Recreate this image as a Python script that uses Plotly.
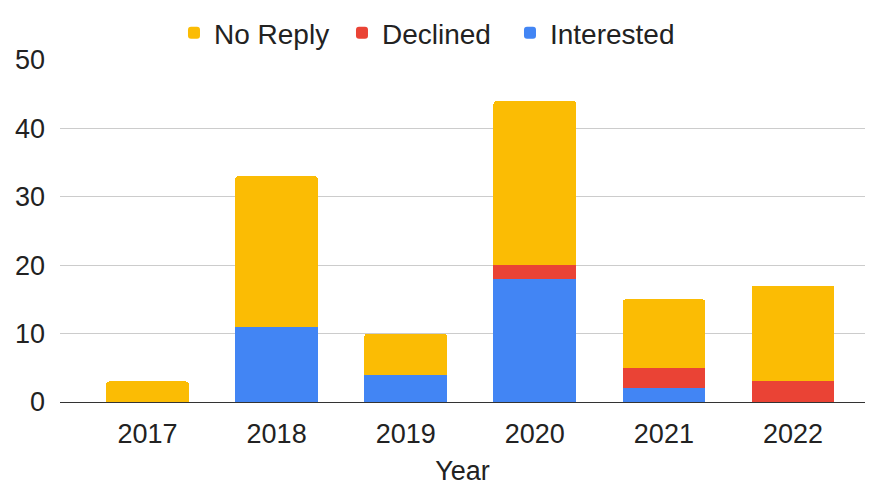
import plotly.graph_objects as go

years = ["2017", "2018", "2019", "2020", "2021", "2022"]
interested = [0, 11, 4, 18, 2, 0]
declined = [0, 0, 0, 2, 3, 3]
no_reply = [3, 22, 6, 24, 10, 14]

fig = go.Figure()
fig.add_trace(go.Bar(name="Interested", x=years, y=interested, marker_color="#4285F4"))
fig.add_trace(go.Bar(name="Declined", x=years, y=declined, marker_color="#EA4335"))
fig.add_trace(go.Bar(name="No Reply", x=years, y=no_reply, marker_color="#FBBC04"))

fig.update_traces(marker_line_width=0)
fig.update_layout(
    barmode="stack",
    bargap=0.36,
    barcornerradius=3,
    width=873, height=486,
    margin=dict(l=52, r=16, t=52, b=92, autoexpand=False),
    paper_bgcolor="white", plot_bgcolor="white",
    font=dict(family="Arial, Liberation Sans", size=27, color="#222222"),
    legend=dict(orientation="h", x=0.1416, xanchor="left", y=1.152, yanchor="top",
                traceorder="reversed", font=dict(size=28, color="#222222"),
                entrywidth=123, entrywidthmode="pixels"),
    xaxis=dict(range=[-0.678, 5.558], showgrid=False, showline=True, linecolor="#333333",
               linewidth=1, ticks="", tickfont=dict(size=27), ticklabelstandoff=8,
               title=dict(text="Year", font=dict(size=27), standoff=12)),
    yaxis=dict(range=[0, 50], dtick=10, showgrid=True, gridcolor="#cccccc", gridwidth=1,
               zeroline=False, ticks="", tickfont=dict(size=27), ticklabelstandoff=14),
)
fig.write_html("out.html")
